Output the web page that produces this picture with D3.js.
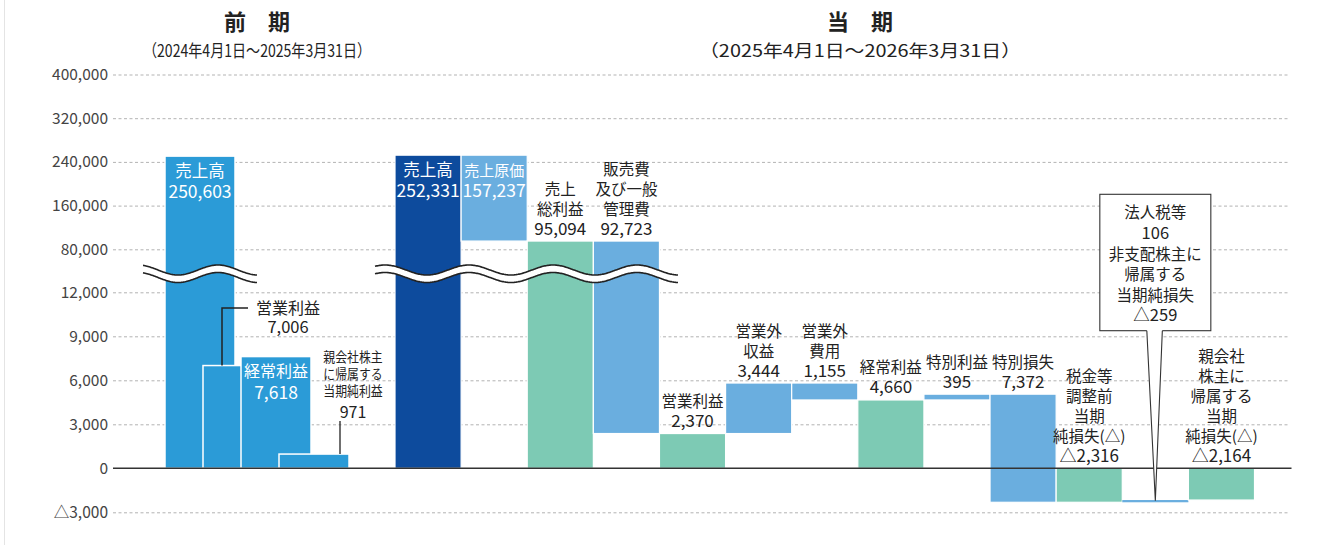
<!DOCTYPE html>
<html><head><meta charset="utf-8">
<script src="https://cdn.jsdelivr.net/npm/d3@7"></script>
<style>
html,body{margin:0;padding:0;background:#fff;}
svg{display:block;font-family:"Noto Sans CJK JP","Noto Sans",sans-serif;}
</style></head><body>
<svg id="chart" width="1324" height="545"></svg>
<script>
// ---------- data ----------
const prevCategories = ["売上高", "営業利益", "経常利益", "親会社株主に帰属する当期純利益"];
const prevValues = [250603, 7006, 7618, 971];
const prevNames = [["売上高"], ["営業利益"], ["経常利益"], ["親会社株主", "に帰属する", "当期純利益"]];

const curCategories = ["売上高", "売上原価", "売上総利益", "販売費及び一般管理費", "営業利益",
  "営業外収益", "営業外費用", "経常利益", "特別利益", "特別損失",
  "税金等調整前当期純損失", "法人税等・非支配株主に帰属する当期純損失", "親会社株主に帰属する当期純損失"];
const curKinds = ["total", "delta", "total", "delta", "total", "delta", "delta", "total", "delta", "delta", "total", "delta", "total"];
const taxValue = 106;
const nonControllingValue = -259;
const curValues = [252331, -157237, 95094, -92723, 2370, 3444, -1155, 4660, 395, -7372, -2316, -taxValue - nonControllingValue, -2164];
const curShown = [252331, 157237, 95094, 92723, 2370, 3444, 1155, 4660, 395, 7372, -2316, null, -2164];
const curNames = [["売上高"], ["売上原価"], ["売上", "総利益"], ["販売費", "及び一般", "管理費"], ["営業利益"],
  ["営業外", "収益"], ["営業外", "費用"], ["経常利益"], ["特別利益"], ["特別損失"],
  ["税金等", "調整前", "当期", "純損失(△)"], null, ["親会社", "株主に", "帰属する", "当期", "純損失(△)"]];
const calloutNames = ["法人税等", "非支配株主に", "帰属する", "当期純損失"];

const lowTicks = [-3000, 0, 3000, 6000, 9000, 12000];
const highTicks = [80000, 160000, 240000, 320000, 400000];

const headers = [
  {title: "前　期", sub: "（2024年4月1日～2025年3月31日）"},
  {title: "当　期", sub: "（2025年4月1日～2026年3月31日）"}
];

// ---------- setup ----------
const fmt = v => (v < 0 ? "△" : "") + d3.format(",")(Math.abs(v));
const isNum = s => /^[△\d,]+$/.test(s);
const W = 1324, H = 545;
const svg = d3.select("#chart");
const gridX0 = 113, gridX1 = 1290;
const C = {prev: "#2b9bd7", dark: "#0d4b9d", light: "#6aaedf", green: "#7dcab4", ink: "#222"};

svg.append("line").attr("x1", 4.5).attr("x2", 4.5).attr("y1", 0).attr("y2", H).attr("stroke", "#e4e4e4");

const yLow = d3.scaleLinear().domain([0, 12000]).range([468.3, 292.3]);
const yHigh = d3.scaleLinear().domain([0, 400000]).range([293, 74.5]);
const y = v => v > 40000 ? yHigh(v) : yLow(v);

function gridAxis(scale, ticks) {
  const ax = d3.axisLeft(scale).tickValues(ticks).tickFormat(fmt)
    .tickSize(-(gridX1 - gridX0)).tickPadding(5);
  const g = svg.append("g").attr("transform", `translate(${gridX0},0)`).call(ax)
    .attr("font-family", null).attr("font-size", null);
  g.select(".domain").remove();
  g.selectAll(".tick line").attr("stroke", "#b3b3b3").attr("stroke-dasharray", "3,2.5")
    .attr("display", d => d === 0 ? "none" : null);
  g.selectAll(".tick text").attr("fill", "#444").attr("font-size", 15.5);
}
gridAxis(yLow, lowTicks);
gridAxis(yHigh, highTicks);

// ---------- x scales ----------
const xPrev = d3.scaleBand().domain(prevCategories).range([165, 317]).padding(0);
const prevBarW = 70;
const xCur = d3.scaleBand().domain(curCategories).range([395, 1254.5]).padding(0);
const bw = xCur.bandwidth();

// ---------- bars: previous period ----------
svg.append("g").selectAll("rect").data(prevCategories).join("rect")
  .attr("x", d => xPrev(d)).attr("width", prevBarW)
  .attr("y", (d, i) => y(prevValues[i]))
  .attr("height", (d, i) => y(0) - y(prevValues[i]))
  .attr("fill", C.prev).attr("stroke", "#fff").attr("stroke-width", 1.5);

// ---------- bars: current period waterfall ----------
let run = 0;
const wf = curCategories.map((c, i) => {
  let s, e;
  if (curKinds[i] === "total") { s = 0; e = curValues[i]; }
  else { s = run; e = run + curValues[i]; }
  run = e;
  return {c, i, s, e, hi: Math.max(s, e), lo: Math.min(s, e)};
});
svg.append("g").selectAll("rect").data(wf).join("rect")
  .attr("x", d => xCur(d.c)).attr("width", bw)
  .attr("y", d => y(d.hi)).attr("height", d => y(d.lo) - y(d.hi))
  .attr("fill", d => d.i === 0 ? C.dark : (curKinds[d.i] === "total" ? C.green : C.light))
  .attr("stroke", d => (y(d.lo) - y(d.hi)) < 4 ? "none" : "#fff").attr("stroke-width", 1.2);

// ---------- axis break waves ----------
function wave(x0, x1, xTrough, period) {
  const amp = 5, yc = 270, gap = 7.5;
  const xs = d3.range(x0, x1 + 0.01, 1);
  const f = (x, off) => [x, yc + off + amp * Math.cos(2 * Math.PI * (x - xTrough) / period)];
  const up = xs.map(x => f(x, 0)), dn = xs.map(x => f(x, gap));
  const g = svg.append("g");
  g.append("path").attr("d", d3.line()(up.concat(dn.slice().reverse())) + "Z").attr("fill", "#fff");
  [up, dn].forEach(p => g.append("path").attr("d", d3.line()(p)).attr("fill", "none")
    .attr("stroke", C.ink).attr("stroke-width", 1.6));
}
wave(xPrev(prevCategories[0]) - 22, xPrev(prevCategories[0]) + prevBarW + 22, xPrev(prevCategories[0]) + 13, 80);
wave(xCur(curCategories[0]) - 20, xCur(curCategories[3]) + bw + 19, xCur(curCategories[0]) + 32, 84);

// ---------- zero line ----------
svg.append("line").attr("x1", gridX0).attr("x2", gridX1 + 1.5).attr("y1", y(0)).attr("y2", y(0))
  .attr("stroke", "#333").attr("stroke-width", 1.5);

// ---------- labels ----------
const lab = svg.append("g").attr("text-anchor", "middle");
function textLine(parent, s, x, yy, opt = {}) {
  const num = isNum(s);
  return parent.append("text").attr("x", x).attr("y", yy)
    .attr("font-size", num ? (opt.numSize || 17) : (opt.jpSize || 15.5))
    .attr("fill", opt.fill || C.ink).text(s);
}
function above(lines, cx, top) {
  const n = lines.length, last = top - 6.5;
  lines.forEach((s, k) => textLine(lab, s, cx, last - (n - 1 - k) * 20));
}
function inside(lines, cx, top, width) {
  lines.forEach((s, k) => {
    const jp = Math.min(16.5, (width - 6) / s.length);
    textLine(lab, s, cx, top + 20.5 + k * 21.5, {fill: "#fff", jpSize: jp, numSize: 17.5});
  });
}

// previous period labels
const pc = i => xPrev(prevCategories[i]) + prevBarW / 2;
inside(prevNames[0].concat(fmt(prevValues[0])), pc(0), y(prevValues[0]), prevBarW);
inside(prevNames[2].concat(fmt(prevValues[2])), pc(2), y(prevValues[2]), prevBarW);
// 営業利益 with leader line
{
  const lx = (xPrev(prevCategories[1]) + xPrev(prevCategories[2])) / 2;
  const ly = 308;
  const tx = pc(2) + 12;
  svg.append("path").attr("d", `M${lx},${y(prevValues[1])}V${ly}H${tx - 40}`)
    .attr("fill", "none").attr("stroke", C.ink).attr("stroke-width", 1.5);
  textLine(lab, prevNames[1][0], tx, ly + 5.5, {jpSize: 16});
  textLine(lab, fmt(prevValues[1]), tx, ly + 25, {numSize: 16.5});
}
// 親会社株主に帰属する当期純利益 (small condensed)
{
  const x4 = xPrev(prevCategories[3]) + prevBarW;
  const lx = x4 - 9, tx = x4 + 4;
  svg.append("line").attr("x1", lx).attr("x2", lx).attr("y1", 421).attr("y2", y(prevValues[3]))
    .attr("stroke", C.ink).attr("stroke-width", 1.3);
  const g = lab.append("g").attr("transform", `translate(${tx},0) scale(0.86,1)`);
  prevNames[3].forEach((s, k) => textLine(g, s, 0, 362.5 + k * 17, {jpSize: 13.8}));
  textLine(lab, fmt(prevValues[3]), tx, 417.5, {numSize: 16});
}

// current period labels
wf.forEach(d => {
  const cx = xCur(d.c) + bw / 2;
  if (d.i === 11) return;
  const lines = curNames[d.i].concat(fmt(curShown[d.i]));
  if (d.i <= 1) inside(lines, cx, y(d.hi), bw);
  else above(lines, cx, y(Math.max(d.hi, 0)));
});

// callout for 法人税等 / 非支配株主
{
  const d = wf[11];
  const cx = xCur(d.c) + bw / 2;
  const bx0 = cx - 55.5, bx1 = cx + 55.5, by0 = 194.3, by1 = 330.7;
  const g = svg.append("g");
  g.append("rect").attr("x", bx0).attr("y", by0).attr("width", bx1 - bx0).attr("height", by1 - by0)
    .attr("fill", "#fff").attr("stroke", "#333").attr("stroke-width", 1.1);
  const tip = y(d.lo) - 1.5;
  g.append("path").attr("d", `M${cx - 8.5},${by1 - 1}L${cx},${tip}L${cx + 7},${by1 - 1}Z`).attr("fill", "#fff");
  g.append("path").attr("d", `M${cx - 8.5},${by1}L${cx},${tip}L${cx + 7},${by1}`)
    .attr("fill", "none").attr("stroke", "#333").attr("stroke-width", 1.1);
  const lines = [calloutNames[0], fmt(taxValue), calloutNames[1], calloutNames[2], calloutNames[3], fmt(nonControllingValue)];
  const cg = g.append("g").attr("text-anchor", "middle");
  lines.forEach((s, k) => textLine(cg, s, cx, by0 + 24 + k * 20.6, {jpSize: 15.5, numSize: 16.5}));
}

// ---------- headers ----------
const hx = [(xPrev(prevCategories[0]) + xPrev(prevCategories[3]) + prevBarW) / 2, 860];
const subW = [228, 322];
headers.forEach((h, i) => {
  svg.append("text").attr("x", hx[i]).attr("y", 29.5).attr("text-anchor", "middle")
    .attr("font-size", 22).attr("font-weight", 700).attr("fill", "#222").text(h.title);
  svg.append("text").attr("x", hx[i] - subW[i] / 2).attr("y", 56.5)
    .attr("font-size", 17).attr("fill", "#222")
    .attr("textLength", subW[i]).attr("lengthAdjust", "spacingAndGlyphs").text(h.sub);
});
</script>
</body></html>
